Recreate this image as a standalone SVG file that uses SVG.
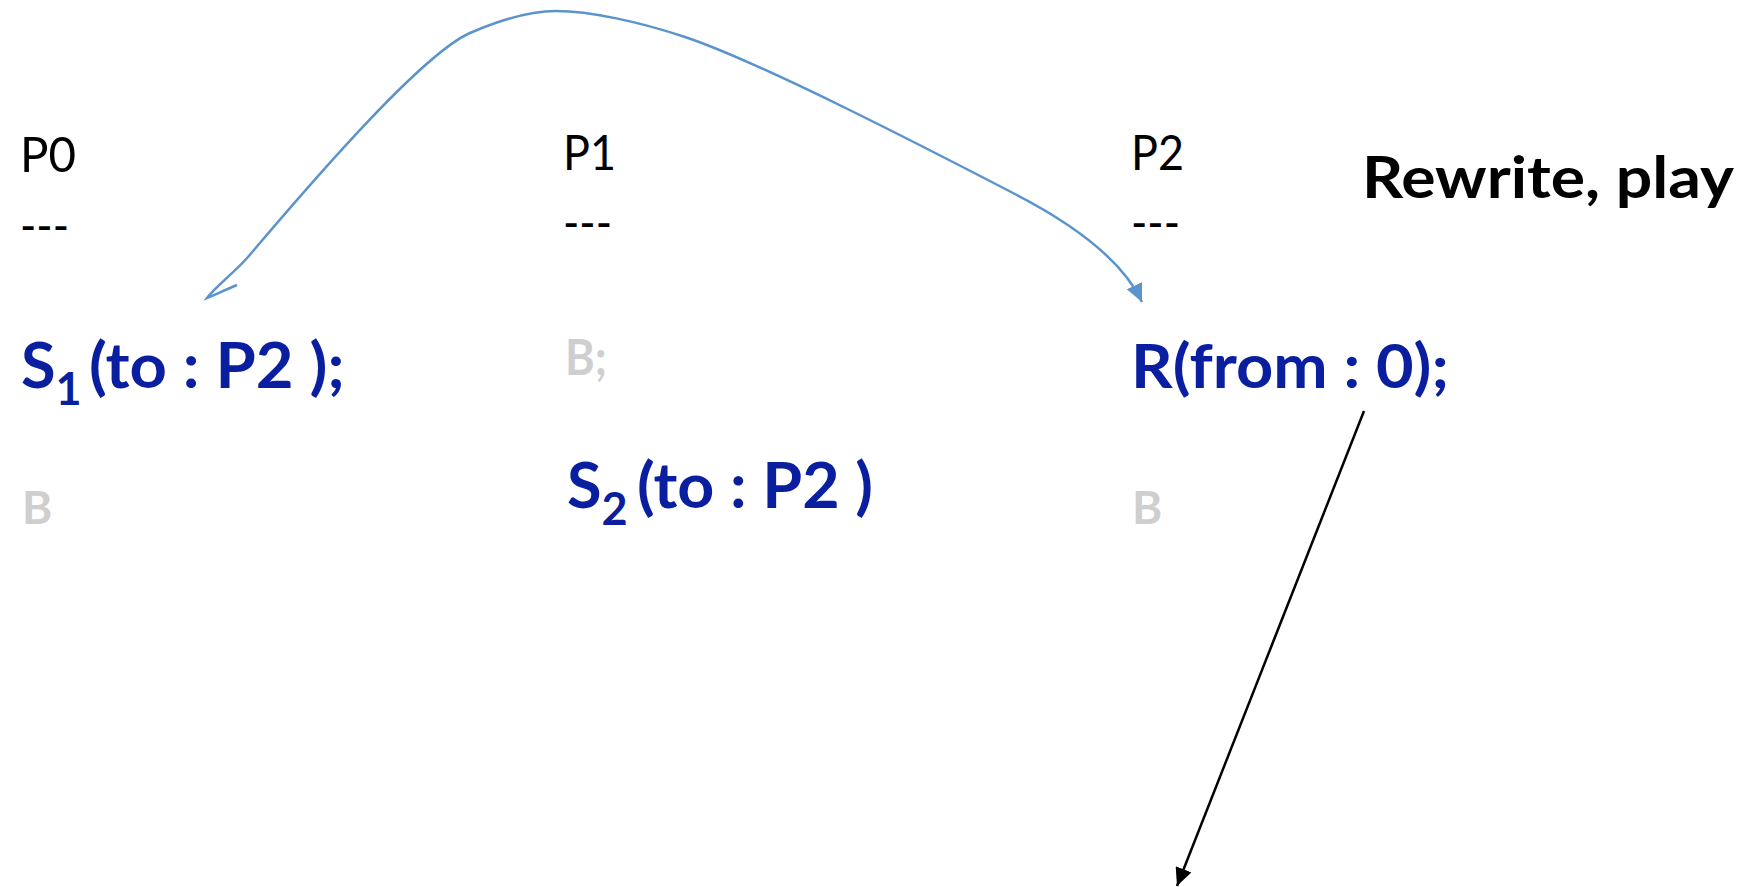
<svg xmlns="http://www.w3.org/2000/svg" width="1748" height="887" viewBox="0 0 1748 887">
<defs>
<style>
.lbl{font-family:Lato,"Liberation Sans",sans-serif;font-size:49px;fill:#000}
.code{font-family:Lato,"Liberation Sans",sans-serif;font-weight:bold;fill:#0a1ea0}
.gray{font-family:Lato,"Liberation Sans",sans-serif;font-weight:bold;fill:#cfcfcf}
.title{font-family:Lato,"Liberation Sans",sans-serif;font-weight:bold;font-size:58px;fill:#000}
.blue{fill:none;stroke:#5b93cc;stroke-width:2.5}
.black{fill:none;stroke:#000;stroke-width:2.5}
</style>
<marker id="ahBlue" markerUnits="userSpaceOnUse" markerWidth="18" markerHeight="17" refX="18" refY="8.5" orient="auto"><path d="M0,0 L18,8.5 L0,17 z" fill="#5b93cc"/></marker>
<marker id="ahBlack" markerUnits="userSpaceOnUse" markerWidth="18" markerHeight="17" refX="18" refY="8.5" orient="auto"><path d="M0,0 L18,8.5 L0,17 z" fill="#000"/></marker>
</defs>
<rect width="1748" height="887" fill="#fff"/>
<g id="P0">
<text class="lbl" x="20" y="172" textLength="56" lengthAdjust="spacingAndGlyphs">P0</text>
<text class="lbl" x="20" y="243" textLength="49" lengthAdjust="spacingAndGlyphs">---</text>
<text class="code" font-size="63" x="21" y="388">S<tspan font-size="45" dy="17">1</tspan></text>
<text class="code" font-size="63" x="89" y="388" textLength="256" lengthAdjust="spacingAndGlyphs">(to : P2 );</text>
<text class="gray" font-size="46" x="22" y="524">B</text>
</g>
<g id="P1">
<text class="lbl" x="563" y="170" textLength="53" lengthAdjust="spacingAndGlyphs">P1</text>
<text class="lbl" x="563" y="240" textLength="49" lengthAdjust="spacingAndGlyphs">---</text>
<text class="gray" font-size="49" x="565" y="375" textLength="42" lengthAdjust="spacingAndGlyphs">B;</text>
<text class="code" font-size="63" x="567" y="508">S<tspan font-size="45" dy="17">2</tspan></text>
<text class="code" font-size="63" x="637" y="508" textLength="236" lengthAdjust="spacingAndGlyphs">(to : P2 )</text>
</g>
<g id="P2">
<text class="lbl" x="1131" y="170" textLength="53" lengthAdjust="spacingAndGlyphs">P2</text>
<text class="lbl" x="1131" y="240" textLength="49" lengthAdjust="spacingAndGlyphs">---</text>
<text class="code" font-size="61" x="1131" y="388" textLength="318" lengthAdjust="spacingAndGlyphs">R(from : 0);</text>
<text class="gray" font-size="46" x="1132" y="524">B</text>
</g>
<g id="title">
<text class="title" x="1362" y="198" textLength="372" lengthAdjust="spacingAndGlyphs">Rewrite, play</text>
</g>
<g id="connectors">
<path class="blue" marker-end="url(#ahBlue)" d="M237,285 C225,290 212,296 207,298 C215,287 235,272 248,257 C320,172 424,53 470,33 C500,20 530,11 556,11 C590,11 640,22 685,37 C760,62 930,150 1013,193 C1060,217 1120,255 1142,302"/>
<line class="black" marker-end="url(#ahBlack)" x1="1364" y1="411" x2="1177" y2="886"/>
</g>
</svg>
